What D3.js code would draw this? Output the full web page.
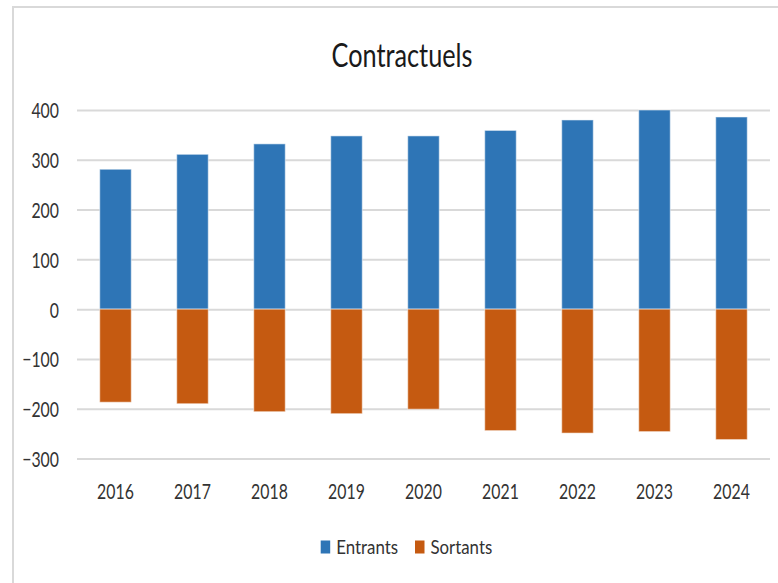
<!DOCTYPE html>
<html><head><meta charset="utf-8">
<script src="https://cdn.jsdelivr.net/npm/d3@7"></script>
<style>
body{margin:0;background:#fff}
svg{display:block}
text{font-family:Lato,"Open Sans",sans-serif}
</style>
</head><body>
<svg id="c" width="778" height="583"></svg>
<script>
// ---- data ----
const years = ["2016","2017","2018","2019","2020","2021","2022","2023","2024"];
const entrants = [281, 311, 332, 348, 348, 359, 380, 400, 386];
const sortants = [-187, -190, -206, -210, -201, -244, -249, -246, -262];
const yTicks = [400, 300, 200, 100, 0, -100, -200, -300];
const seriesNames = ["Entrants", "Sortants"];
const seriesColors = ["#2E75B6", "#C55A11"];
const titleText = "Contractuels";

// ---- layout ----
const svg = d3.select("#c");
const plotL = 77, plotR = 770, plotT = 110, plotB = 458.5;
const squeezeK = 0.72;

function squeeze(sel, k) {
  sel.each(function () {
    const w = this.getComputedTextLength();
    this.setAttribute("textLength", w * k);
    this.setAttribute("lengthAdjust", "spacingAndGlyphs");
  });
}

// chart frame
svg.append("path")
  .attr("d", "M13,583 L13,7 L778,7")
  .attr("fill", "none").attr("stroke", "#d9d9d9").attr("stroke-width", 2);

const x = d3.scaleBand().domain(years).range([plotL, plotR])
  .paddingInner(0.59).paddingOuter(0.295);
const y = d3.scaleLinear().domain([-300, 400]).range([plotB, plotT]);

// y axis + gridlines
const yAxis = svg.append("g").attr("transform", `translate(${plotL},0)`)
  .call(d3.axisLeft(y).tickValues(yTicks).tickSize(-(plotR - plotL)).tickPadding(18));
yAxis.select(".domain").remove();
yAxis.selectAll(".tick line").attr("stroke", "#d9d9d9").attr("stroke-width", 2);
yAxis.selectAll(".tick text")
  .attr("font-size", 22).attr("fill", "#333").attr("dy", "0.36em")
  .style("font-family", "Lato, 'Open Sans', sans-serif")
  .call(squeeze, squeezeK);

// bars
const barG = svg.append("g");
barG.selectAll("rect.ent").data(years).join("rect").attr("class", "ent")
  .attr("x", d => x(d)).attr("width", x.bandwidth())
  .attr("y", (d, i) => y(entrants[i]))
  .attr("height", (d, i) => y(0) - y(entrants[i]))
  .attr("fill", seriesColors[0])
  .attr("stroke", "#fff").attr("stroke-opacity", 0.45).attr("stroke-width", 1.2);
barG.selectAll("rect.sor").data(years).join("rect").attr("class", "sor")
  .attr("x", d => x(d)).attr("width", x.bandwidth())
  .attr("y", y(0))
  .attr("height", (d, i) => y(sortants[i]) - y(0))
  .attr("fill", seriesColors[1])
  .attr("stroke", "#fff").attr("stroke-opacity", 0.45).attr("stroke-width", 1.2);

// x axis labels
const xAxis = svg.append("g").attr("transform", `translate(0,${plotB})`)
  .call(d3.axisBottom(x).tickSize(0));
xAxis.select(".domain").remove();
xAxis.selectAll(".tick text")
  .attr("y", 499 - plotB).attr("dy", 0)
  .attr("font-size", 22).attr("fill", "#333")
  .style("font-family", "Lato, 'Open Sans', sans-serif")
  .call(squeeze, squeezeK);

// title
svg.append("text").attr("x", 402).attr("y", 66.5)
  .attr("text-anchor", "middle").attr("font-size", 32).attr("fill", "#1a1a1a")
  .text(titleText)
  .attr("textLength", 141).attr("lengthAdjust", "spacingAndGlyphs");

// legend
const legendX = [320.7, 415];
const legendTextW = [62, 61.7];
const lg = svg.append("g");
seriesNames.forEach((name, i) => {
  lg.append("rect").attr("x", legendX[i]).attr("y", 540.5)
    .attr("width", 9.5).attr("height", 13).attr("fill", seriesColors[i]);
  lg.append("text").attr("x", legendX[i] + 15.5).attr("y", 554)
    .attr("font-size", 18.5).attr("fill", "#333").text(name)
    .attr("textLength", legendTextW[i]).attr("lengthAdjust", "spacingAndGlyphs");
});
</script>
</body></html>
